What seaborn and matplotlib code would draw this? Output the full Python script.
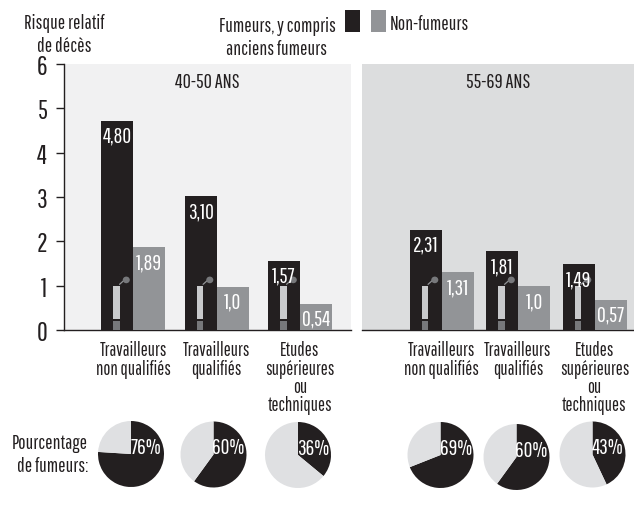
import matplotlib
matplotlib.use("Agg")
import matplotlib.pyplot as plt
from matplotlib.patches import Rectangle, Ellipse
import pandas as pd
import seaborn as sns

W, H = 634, 510
BLACK, GREY, LIGHT = "#231f20", "#929497", "#dfe0e2"
TXT = "#231f20"

# ---- data ----
categories = ["Travailleurs\nnon qualifiés", "Travailleurs\nqualifiés", "Etudes\nsupérieures\nou\ntechniques"]
series_names = ["Fumeurs", "Non-fumeurs"]
smokers_a = [4.72, 3.02, 1.56]
nonsmokers_a = [1.87, 0.98, 0.59]
smokers_b = [2.26, 1.78, 1.49]
nonsmokers_b = [1.31, 0.99, 0.68]
smokers_a_labels = ["4,80", "3,10", "1,57"]
nonsmokers_a_labels = ["1,89", "1,0", "0,54"]
smokers_b_labels = ["2,31", "1,81", "1,49"]
nonsmokers_b_labels = ["1,31", "1,0", "0,57"]
pct_a = [76, 60, 36]
pct_b = [69, 60, 43]
panel_titles = ["40-50 ANS", "55-69 ANS"]
y_ticks = [0, 1, 2, 3, 4, 5, 6]

FONT = "Pathway Gothic One"
sns.set_theme(style="white")
plt.rcParams["font.family"] = [FONT, "DejaVu Sans"]
fig = plt.figure(figsize=(W / 100, H / 100), dpi=100, facecolor="white")


def axpx(x0, y0, x1, y1):
    return fig.add_axes([x0 / W, 1 - y1 / H, (x1 - x0) / W, (y1 - y0) / H])


def ftext(x, y, s, **kw):
    kw.setdefault("color", TXT)
    kw.setdefault("fontsize", 14)
    kw.setdefault("va", "center")
    kw.setdefault("ha", "center")
    fig.text(x / W, 1 - y / H, s, **kw)


def panel(box, cats, s1, s2, l1, l2, bg, c0, step, title):
    ax = axpx(*box)
    df = pd.DataFrame({
        "cat": cats + cats,
        "val": s1 + s2,
        "serie": [series_names[0]] * 3 + [series_names[1]] * 3,
    })
    sns.barplot(data=df, x="cat", y="val", hue="serie", hue_order=series_names,
                palette=[BLACK, GREY], width=64 / step, gap=0, saturation=1,
                legend=False, ax=ax, zorder=3)
    for b in ax.patches:
        b.set_linewidth(0)
    ax.set_facecolor(bg)
    ax.set_xlim((box[0] - c0) / step, (box[2] - c0) / step)
    ax.set_ylim(0, 6)
    ax.set_xlabel("")
    ax.set_ylabel("")
    for side in ["top", "right"]:
        ax.spines[side].set_visible(False)
    ax.spines["bottom"].set_color(BLACK)
    ax.spines["bottom"].set_linewidth(1.0)
    ax.tick_params(axis="x", length=0, pad=7.5, labelsize=13.5, labelcolor=TXT)
    for lab in ax.get_xticklabels():
        lab.set_linespacing(0.95)
    for cont, labs in zip(ax.containers, [l1, l2]):
        ax.bar_label(cont, labels=labs, label_type="edge", padding=-18,
                     color="white", fontsize=15.5, zorder=6)
    # cigarette glyph inside each smoker bar
    for bar in ax.containers[0]:
        x = bar.get_x()
        w = bar.get_width()
        cx0, cw = x + w * 0.375, w * 0.205
        ax.add_patch(Rectangle((cx0, 0), cw, 1.0, fc="#c9cacc", ec="none", zorder=4))
        ax.add_patch(Rectangle((cx0, 0), cw, 0.21, fc="#77787b", ec="none", zorder=4))
        ax.add_patch(Rectangle((cx0, 0.21), cw, 0.03, fc=BLACK, ec="none", zorder=5))
        ax.plot([cx0 + cw, x + w * 0.72], [1.03, 1.12], color="#929497", lw=0.9, zorder=4)
        ax.add_patch(Ellipse((x + w * 0.79, 1.13), w * 0.22, 0.15, fc="#77787b", ec="none", zorder=4))
    ax.text(0.5, 0.935, title, transform=ax.transAxes, ha="center", va="center",
            fontsize=14.5, color=TXT)
    return ax


ax1 = panel((64, 65, 351, 331), categories, smokers_a, nonsmokers_a,
            smokers_a_labels, nonsmokers_a_labels, "#f1f1f2", 133, 83.5, panel_titles[0])
ax2 = panel((362, 65, 634, 331), categories, smokers_b, nonsmokers_b,
            smokers_b_labels, nonsmokers_b_labels, "#dcddde", 441.5, 76.5, panel_titles[1])

ax1.spines["left"].set_color(BLACK)
ax1.spines["left"].set_linewidth(1.0)
ax1.set_yticks(y_ticks)
ax1.tick_params(axis="y", left=True, length=6, width=1, color=BLACK, pad=6,
                labelsize=19, labelcolor=TXT)
ax2.spines["left"].set_visible(False)
ax2.set_yticks([])

# header texts and key
ftext(64, 35, "Risque relatif\nde décès", linespacing=1.25)
ftext(277, 38, "Fumeurs, y compris\nanciens fumeurs", linespacing=1.3)
fig.patches.append(Rectangle((345 / W, 1 - 33 / H), 15 / W, 22 / H, fc=BLACK, ec="none",
                             transform=fig.transFigure))
fig.patches.append(Rectangle((371 / W, 1 - 33 / H), 15 / W, 22 / H, fc=GREY, ec="none",
                             transform=fig.transFigure))
ftext(390, 25, "Non-fumeurs", ha="left")
ftext(88, 455, "Pourcentage\nde fumeurs:", ha="right", linespacing=1.3)

# pies
pie_boxes = [(131, 455), (213.5, 455.5), (298, 456), (440.5, 456), (516.5, 458), (592.5, 455.5)]
for (cx, cy), p in zip(pie_boxes, pct_a + pct_b):
    r = 33
    pa = axpx(cx - r, cy - r, cx + r, cy + r)
    pa.pie([p, 100 - p], colors=[BLACK, LIGHT], startangle=90, counterclock=False,
           radius=1.0, wedgeprops={"linewidth": 0})
    pa.set_xlim(-1, 1)
    pa.set_ylim(-1, 1)
    pa.text(0.46, 0.22, f"{p}%", color="white", fontsize=15.5, ha="center", va="center")

fig.savefig("out.png", dpi=100, facecolor="white")
